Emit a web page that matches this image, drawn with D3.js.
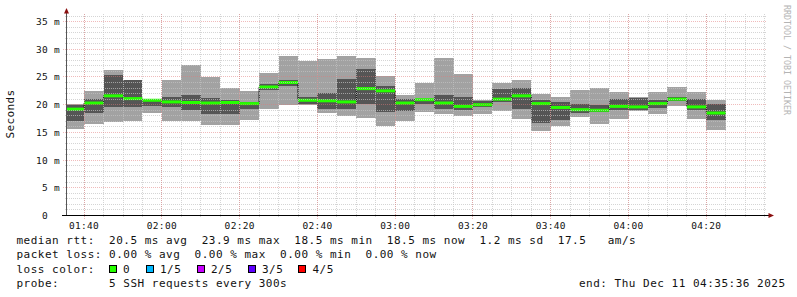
<!DOCTYPE html>
<html>
<head>
<meta charset="utf-8">
<script src="https://cdn.jsdelivr.net/npm/d3@7"></script>
<style>
body{margin:0;background:#fff;}
text{font-family:"DejaVu Sans Mono",monospace;white-space:pre;fill:#111;}
</style>
</head>
<body>
<svg id="graph" width="797" height="297"></svg>
<script>
// step ends, one sample every 300s (first step is cut by the graph start)
var stepEnds = ["01:40","01:45","01:50","01:55","02:00","02:05","02:10","02:15","02:20","02:25",
  "02:30","02:35","02:40","02:45","02:50","02:55","03:00","03:05","03:10","03:15",
  "03:20","03:25","03:30","03:35","03:40","03:45","03:50","03:55","04:00","04:05",
  "04:10","04:15","04:20","04:25"];

// the 5 pings of each step, sorted : max, 4th, median, 2nd, min (ms)
var rttMax    = [20.2,22.4,26.2,24.5,21.1,24.4,27.1,25.0,23.0,22.4,25.8,28.7,27.8,28.3,28.7,28.4,25.1,
                 21.7,23.9,28.4,25.5,20.8,24.0,24.4,21.9,21.3,22.6,23.1,22.3,21.3,22.3,23.2,22.3,20.8];
var rttHigh   = [20.0,21.1,25.3,24.4,21.0,21.3,21.7,21.2,20.9,20.4,23.8,24.5,21.4,22.1,24.6,26.4,23.3,
                 21.0,21.1,21.7,21.3,20.7,22.8,23.0,20.8,20.5,20.1,20.0,21.1,21.2,20.8,21.4,21.0,20.1];
var rttMedian = [19.2,20.3,21.6,21.1,20.8,20.5,20.4,20.3,20.4,20.2,23.2,24.0,20.8,20.7,20.5,22.9,22.5,
                 20.3,20.9,20.3,19.7,20.0,21.0,21.6,20.2,19.5,19.1,19.0,19.7,19.6,20.2,21.0,19.6,18.5];
var rttLow    = [17.0,18.5,19.6,19.6,19.8,19.5,19.0,18.4,18.4,19.2,22.7,23.3,20.2,19.3,19.2,20.1,18.7,
                 18.8,20.2,19.2,19.0,19.6,20.4,19.2,16.7,17.2,18.5,18.6,19.0,19.0,19.4,20.7,19.0,17.2];
var rttMin    = [15.6,16.5,16.9,17.0,18.5,17.0,17.0,16.3,16.4,17.2,19.2,20.0,20.0,18.5,18.0,17.6,16.1,
                 17.0,18.7,18.3,18.0,18.3,18.8,17.4,15.2,16.1,17.8,16.5,17.4,18.9,18.4,19.7,17.4,15.5];
// lost pings per step (all 0 here)
var lostPings = [0,0,0,0,0,0,0,0,0,0,0,0,0,0,0,0,0,0,0,0,0,0,0,0,0,0,0,0,0,0,0,0,0,0];

var yTicks = [0,5,10,15,20,25,30,35];
var xTickLabels = ["01:40","02:00","02:20","02:40","03:00","03:20","03:40","04:00","04:20"];

var lossLabels = ["0","1/5","2/5","3/5","4/5"];
var lossColors = ["#26ff00","#00b8ff","#c800ff","#5e00ff","#ff0000"];

var legendLines = [
  "median rtt:  20.5 ms avg  23.9 ms max  18.5 ms min  18.5 ms now  1.2 ms sd  17.5   am/s",
  "packet loss: 0.00 % avg  0.00 % max  0.00 % min  0.00 % now",
  "loss color:",
  "probe:       5 SSH requests every 300s"
];
var endLabel = "end: Thu Dec 11 04:35:36 2025";

var parse = d3.timeParse("%H:%M");
var parseFull = d3.timeParse("%H:%M:%S");
var tStart = parseFull("01:35:36");
var tEnd = parseFull("04:35:36");

var svg = d3.select("#graph");

var x = d3.scaleTime().domain([tStart, tEnd]).range([67, 767]);
var y = d3.scaleLinear().domain([0, 36.55]).range([215.5, 13]);

// build the steps
var steps = stepEnds.map(function(e, i){
  return {
    t0: i == 0 ? tStart : parse(stepEnds[i-1]),
    t1: parse(e),
    max: rttMax[i], hi: rttHigh[i], med: rttMedian[i], lo: rttLow[i], min: rttMin[i],
    loss: lostPings[i]
  };
});

var plot = svg.append("g");

// smoke : outer pings light, inner pings dark
plot.selectAll("rect.outer").data(steps).enter()
  .append("rect").attr("class","outer")
  .attr("x", function(d){ return x(d.t0); })
  .attr("width", function(d){ return x(d.t1) - x(d.t0); })
  .attr("y", function(d){ return y(d.max); })
  .attr("height", function(d){ return y(d.min) - y(d.max); })
  .attr("fill", "#a2a2a2")
  .attr("shape-rendering","crispEdges");

plot.selectAll("rect.inner").data(steps).enter()
  .append("rect").attr("class","inner")
  .attr("x", function(d){ return x(d.t0); })
  .attr("width", function(d){ return x(d.t1) - x(d.t0); })
  .attr("y", function(d){ return y(d.hi); })
  .attr("height", function(d){ return y(d.lo) - y(d.hi); })
  .attr("fill", "#555555")
  .attr("shape-rendering","crispEdges");

// median step line
var medPts = steps.map(function(d){ return [x(d.t0), y(d.med)]; });
medPts.push([x(steps[steps.length-1].t1), y(steps[steps.length-1].med)]);
plot.append("path")
  .attr("d", d3.line().curve(d3.curveStepAfter)(medPts))
  .attr("fill","none")
  .attr("stroke","#111")
  .attr("stroke-width",1);

// median colored by loss
plot.selectAll("line.med").data(steps).enter()
  .append("line").attr("class","med")
  .attr("x1", function(d){ return x(d.t0); })
  .attr("x2", function(d){ return x(d.t1); })
  .attr("y1", function(d){ return y(d.med); })
  .attr("y2", function(d){ return y(d.med); })
  .attr("stroke", function(d){ return lossColors[d.loss]; })
  .attr("stroke-width", 3);

// grid (drawn over the smoke like rrdtool does)
var grid = svg.append("g").attr("shape-rendering","crispEdges");
var minorY = d3.range(1, 37).filter(function(v){ return v % 5 != 0; });
grid.selectAll("line.ymin").data(minorY).enter()
  .append("line").attr("class","ymin")
  .attr("x1", 65).attr("x2", 767)
  .attr("y1", function(d){ return Math.floor(y(d)) + 0.5; })
  .attr("y2", function(d){ return Math.floor(y(d)) + 0.5; })
  .attr("stroke","rgba(195,195,195,0.7)")
  .attr("stroke-dasharray","1,1");

var minorX = d3.timeMinute.every(5).range(parse("01:40"), tEnd);
grid.selectAll("line.xmin").data(minorX).enter()
  .append("line").attr("class","xmin")
  .attr("x1", function(d){ return Math.floor(x(d)) + 0.5; })
  .attr("x2", function(d){ return Math.floor(x(d)) + 0.5; })
  .attr("y1", 217).attr("y2", 13)
  .attr("stroke","rgba(195,195,195,0.7)")
  .attr("stroke-dasharray","1,1");

grid.selectAll("line.ymaj").data(yTicks.slice(1)).enter()
  .append("line").attr("class","ymaj")
  .attr("x1", 63).attr("x2", 767)
  .attr("y1", function(d){ return Math.floor(y(d)) + 0.5; })
  .attr("y2", function(d){ return Math.floor(y(d)) + 0.5; })
  .attr("stroke","rgba(225,120,120,0.5)")
  .attr("stroke-dasharray","1,1");

grid.selectAll("line.xmaj").data(xTickLabels).enter()
  .append("line").attr("class","xmaj")
  .attr("x1", function(d){ return Math.floor(x(parse(d))) + 0.5; })
  .attr("x2", function(d){ return Math.floor(x(parse(d))) + 0.5; })
  .attr("y1", 219).attr("y2", 13)
  .attr("stroke","rgba(225,120,120,0.5)")
  .attr("stroke-dasharray","1,1");

// axes
svg.append("line").attr("x1",66.5).attr("x2",66.5).attr("y1",216).attr("y2",12)
  .attr("stroke","#555").attr("shape-rendering","crispEdges");
svg.append("line").attr("x1",62).attr("x2",770).attr("y1",215.5).attr("y2",215.5)
  .attr("stroke","#000").attr("shape-rendering","crispEdges");
svg.append("path").attr("d","M64,13.5L69,13.5L66.5,8Z").attr("fill","#8b1010");
svg.append("path").attr("d","M768.5,213L768.5,218L774,215.5Z").attr("fill","#8b1010");

// y labels
svg.selectAll("text.ylab").data(yTicks).enter()
  .append("text").attr("class","ylab")
  .attr("x", 60).attr("y", function(d){ return y(d) + 3.5; })
  .attr("text-anchor","end")
  .attr("xml:space","preserve")
  .style("font-size","9.5px").style("letter-spacing","0.3px")
  .text(function(d){ return d == 0 ? "0  " : d + " m"; });

// x labels
svg.selectAll("text.xlab").data(xTickLabels).enter()
  .append("text").attr("class","xlab")
  .attr("x", function(d){ return x(parse(d)); })
  .attr("y", 228.5)
  .attr("text-anchor","middle")
  .style("font-size","9.5px").style("letter-spacing","0.3px")
  .text(function(d){ return d; });

// axis title
svg.append("text")
  .attr("transform","translate(14,114) rotate(-90)")
  .attr("text-anchor","middle")
  .style("font-size","11px").style("letter-spacing","0.4px")
  .text("Seconds");

// watermark
svg.append("text")
  .attr("transform","translate(784,5) rotate(90)")
  .style("font-size","8.3px").style("fill","#b4b4b4")
  .text("RRDTOOL / TOBI OETIKER");

// legend
var lineY = [244, 258.3, 272.6, 287];
svg.selectAll("text.leg").data(legendLines).enter()
  .append("text").attr("class","leg")
  .attr("x", 16.5).attr("y", function(d,i){ return lineY[i]; })
  .attr("xml:space","preserve")
  .style("font-size","11px").style("letter-spacing","0.5px")
  .text(function(d){ return d; });

var boxX = [108.5, 146, 197, 247.5, 298];
var boxLabX = [123, 160, 211, 262, 312.5];
svg.selectAll("rect.lc").data(lossColors).enter()
  .append("rect").attr("class","lc")
  .attr("x", function(d,i){ return boxX[i] + 0.5; })
  .attr("y", 265.5).attr("width",7).attr("height",7)
  .attr("fill", function(d){ return d; })
  .attr("stroke","#000").attr("shape-rendering","crispEdges");
svg.selectAll("text.lcl").data(lossLabels).enter()
  .append("text").attr("class","lcl")
  .attr("x", function(d,i){ return boxLabX[i]; }).attr("y", lineY[2])
  .style("font-size","11px").style("letter-spacing","0.5px")
  .text(function(d){ return d; });

svg.append("text").attr("x",579).attr("y",lineY[3])
  .style("font-size","11px").style("letter-spacing","0.5px")
  .text(endLabel);
</script>
</body>
</html>
